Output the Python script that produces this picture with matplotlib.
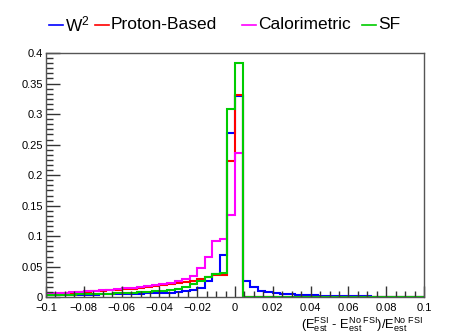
import matplotlib
matplotlib.use("Agg")
import matplotlib.pyplot as plt
import numpy as np
from matplotlib.ticker import MultipleLocator, AutoMinorLocator, FuncFormatter
from matplotlib.lines import Line2D

plt.rcParams['font.family'] = ['Liberation Sans', 'DejaVu Sans']
plt.rcParams['mathtext.fontset'] = 'custom'
plt.rcParams['mathtext.rm'] = 'Liberation Sans'
plt.rcParams['mathtext.it'] = 'Liberation Sans:italic'

# 50 bins of width 0.004 from -0.1 to 0.1
x_min, x_max, n_bins = -0.1, 0.1, 50

w2 = [0.0030, 0.0032, 0.0034, 0.0036, 0.0038, 0.0040, 0.0043, 0.0046, 0.0049, 0.0052,
      0.0055, 0.0058, 0.0061, 0.0064, 0.0068, 0.0073, 0.0078, 0.0085, 0.0095, 0.0120,
      0.0150, 0.0270, 0.0380, 0.0700, 0.2690, 0.3300, 0.0260, 0.0165, 0.0110, 0.0080,
      0.0067, 0.0055, 0.0047, 0.0040, 0.0035, 0.0030, 0.0027, 0.0024, 0.0021, 0.0019,
      0.0017, 0.0015, 0.0014, 0.0013, 0.0012, 0.0011, 0.0010, 0.0009, 0.0009, 0.0008]

proton = [0.0055, 0.0060, 0.0066, 0.0073, 0.0080, 0.0087, 0.0095, 0.0103, 0.0112, 0.0122,
          0.0132, 0.0143, 0.0155, 0.0167, 0.0180, 0.0195, 0.0210, 0.0230, 0.0250, 0.0270,
          0.0300, 0.0330, 0.0360, 0.0370, 0.2230, 0.3310, 0.0008, 0.0007, 0.0006, 0.0006,
          0.0005, 0.0005, 0.0004, 0.0004, 0.0004, 0.0003, 0.0003, 0.0003, 0.0003, 0.0003,
          0.0002, 0.0002, 0.0002, 0.0002, 0.0002, 0.0002, 0.0002, 0.0002, 0.0002, 0.0002]

calo = [0.0066, 0.0071, 0.0077, 0.0084, 0.0091, 0.0099, 0.0107, 0.0116, 0.0125, 0.0135,
        0.0145, 0.0156, 0.0168, 0.0180, 0.0195, 0.0210, 0.0230, 0.0260, 0.0300, 0.0350,
        0.0480, 0.0660, 0.0920, 0.0950, 0.1340, 0.2360, 0.0006, 0.0005, 0.0005, 0.0004,
        0.0004, 0.0004, 0.0003, 0.0003, 0.0003, 0.0003, 0.0002, 0.0002, 0.0002, 0.0002,
        0.0002, 0.0002, 0.0002, 0.0001, 0.0001, 0.0001, 0.0001, 0.0001, 0.0001, 0.0001]

sf = [0.0032, 0.0035, 0.0038, 0.0042, 0.0046, 0.0050, 0.0054, 0.0058, 0.0062, 0.0067,
      0.0072, 0.0078, 0.0085, 0.0093, 0.0101, 0.0110, 0.0120, 0.0135, 0.0170, 0.0210,
      0.0260, 0.0340, 0.0380, 0.0395, 0.3090, 0.3830, 0.0006, 0.0005, 0.0005, 0.0004,
      0.0004, 0.0004, 0.0003, 0.0003, 0.0003, 0.0003, 0.0002, 0.0002, 0.0002, 0.0002,
      0.0002, 0.0002, 0.0002, 0.0001, 0.0001, 0.0001, 0.0001, 0.0001, 0.0001, 0.0001]

labels = ["W$^{2}$", "Proton-Based", "Calorimetric", "SF"]
colors = ["#0000ff", "#ff0000", "#ff00ff", "#00cc00"]

edges = np.linspace(x_min, x_max, n_bins + 1)

fig = plt.figure(figsize=(4.68, 3.36), dpi=100)
ax = fig.add_axes([46 / 468, 1 - 297.3 / 336, (424 - 46) / 468, (297.3 - 53) / 336])

for vals, c in zip([w2, proton, calo, sf], colors):
    ax.stairs(vals, edges, color=c, lw=1.5)

ax.set_xlim(x_min, x_max)
ax.set_ylim(0, 0.4)

ax.xaxis.set_major_locator(MultipleLocator(0.02))
ax.xaxis.set_minor_locator(MultipleLocator(0.005))
ax.yaxis.set_major_locator(MultipleLocator(0.05))
ax.yaxis.set_minor_locator(AutoMinorLocator(6))


def tick_fmt(v, p):
    v = round(v, 4)
    if abs(v) < 1e-9:
        return "0"
    return ("%g" % v).replace("-", "\u2212")


ax.xaxis.set_major_formatter(FuncFormatter(tick_fmt))
ax.yaxis.set_major_formatter(FuncFormatter(tick_fmt))

ax.tick_params(which="both", direction="in", top=False, right=False,
               colors="#333333", labelcolor="black", labelsize=8)
ax.tick_params(axis="y", which="major", length=10, width=1, pad=2)
ax.tick_params(axis="y", which="minor", length=5, width=1)
ax.tick_params(axis="x", which="major", length=8, width=1, pad=4)
ax.tick_params(axis="x", which="minor", length=4, width=1)
for s in ax.spines.values():
    s.set_color("#555555")
    s.set_linewidth(1)

fig.text(423 / 468, 1 - 328 / 336,
         r"$\mathrm{(E^{FSI}_{est}}$ - $\mathrm{E^{No\ FSI}_{est})/E^{No\ FSI}_{est}}$",
         ha="right", va="baseline", fontsize=9.3)

# legend row drawn by hand, columns are uneven in the original
leg_x = [49, 95, 242, 362]
leg_y = 1 - 24.5 / 336
for lx, lab, c in zip(leg_x, labels, colors):
    fig.add_artist(Line2D([lx / 468, (lx + 14) / 468], [leg_y, leg_y],
                          color=c, lw=1.2, transform=fig.transFigure))
    fig.text((lx + 16) / 468, leg_y, lab, ha="left", va="center", fontsize=12.5)

fig.savefig("out.png", dpi=100)
